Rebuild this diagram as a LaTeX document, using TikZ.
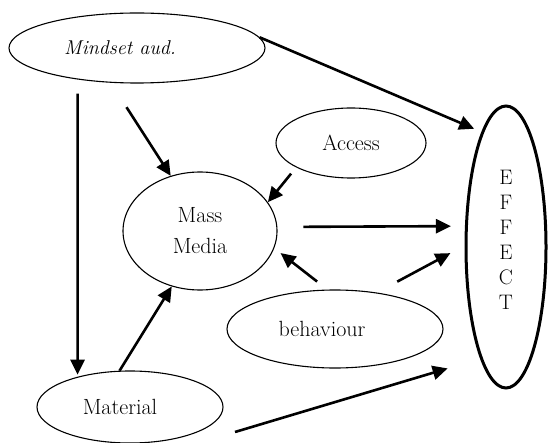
\documentclass[tikz,border=0pt]{standalone}
\usetikzlibrary{shapes.geometric,arrows.meta}
\begin{document}
\begin{tikzpicture}[x=1pt, y=-1pt,
    oval/.style={ellipse, draw, line width=1.1pt, inner sep=0pt, align=center, font=\fontsize{22}{31}\selectfont},
    txt/.style={inner sep=0pt, align=center, font=\fontsize{22}{31}\selectfont},
    arr/.style={line width=2.6pt, -{Triangle[length=15pt,width=14pt]}}]
    \useasboundingbox (0,0) rectangle (548,443);

    % Ovals
    \node[oval, minimum width=256pt, minimum height=70pt,
          label={[txt, xshift=-17pt, font=\fontsize{20}{31}\selectfont\itshape]center:Mindset aud.}] (mind) at (137,48) {};
    \node[oval, minimum width=154pt, minimum height=118pt] (mass) at (200,231) {Mass\\Media};
    \node[oval, minimum width=150pt, minimum height=70pt] (access) at (351,143) {Access};
    \node[oval, minimum width=216pt, minimum height=78pt,
          label={[txt, xshift=-13pt]center:behaviour}] (behav) at (335,329) {};
    \node[oval, minimum width=186pt, minimum height=72pt,
          label={[txt, xshift=-10pt]center:Material}] (mat) at (130,407) {};
    \node[oval, line width=3pt, minimum width=80pt, minimum height=282pt,
          label={[txt, yshift=7pt, font=\fontsize{21}{25}\selectfont]center:E\\F\\F\\E\\C\\T}] (effect) at (506,247) {};
    \coordinate (matout) at ([shift={(105,25)}]mat.center);

    % Arrows
    \draw[arr, shorten >=8pt] (mind.5) -- (effect.102);
    \draw[arr, shorten <=14pt, shorten >=2pt] (mind.208) -- (mat.150);
    \draw[arr, shorten <=29pt] (mind.233) -- (mass.118);
    \draw[arr, shorten <=8pt] (access.204) -- (mass.23);
    \draw[arr, shorten <=26pt, shorten >=14pt] (mass.3) -- (effect.153);
    \draw[arr, shorten <=13pt, shorten >=8pt] (behav.101) -- (mass.-13);
    \draw[arr, shorten <=23pt, shorten >=16pt] (behav.41) -- (effect.178);
    \draw[arr] (mat.106) -- (mass.243);
    \draw[arr, shorten >=34pt] (matout) -- (effect.257);
\end{tikzpicture}
\end{document}
